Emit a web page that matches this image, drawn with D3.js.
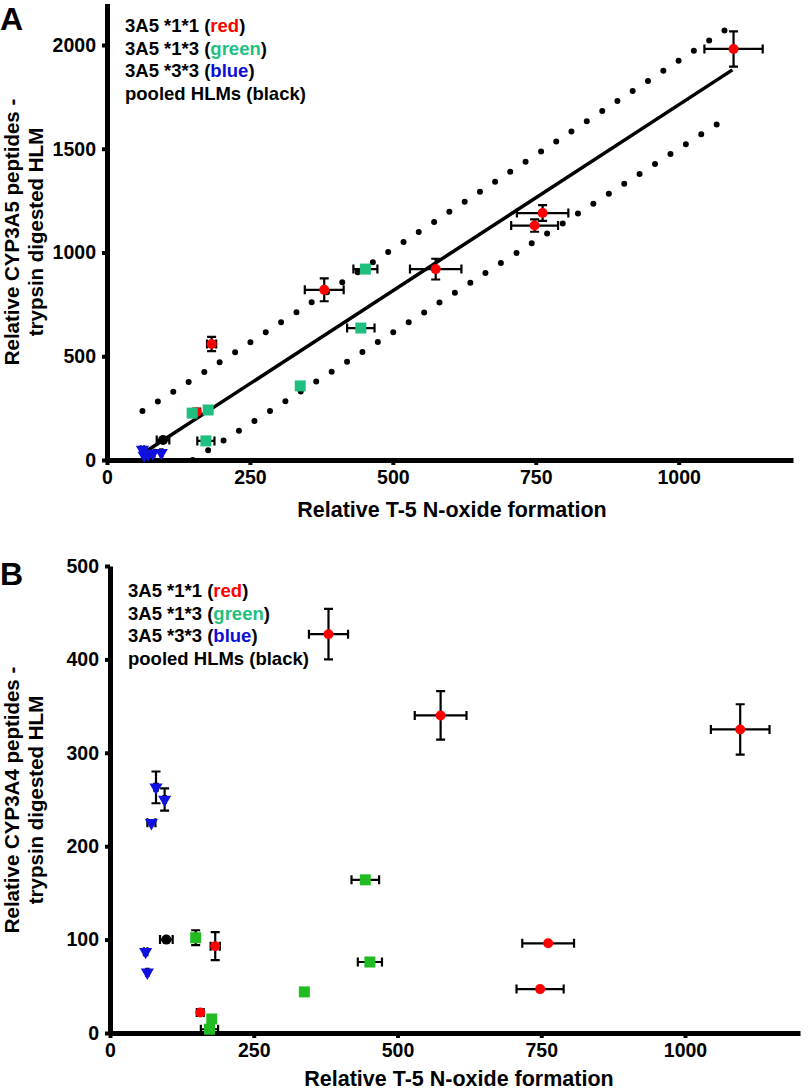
<!DOCTYPE html>
<html>
<head>
<meta charset="utf-8">
<script src="https://cdn.jsdelivr.net/npm/d3@7"></script>
<style>
  body { margin: 0; background: #fff; }
  text { font-family: "Liberation Sans", Arial, sans-serif; font-weight: bold; }
</style>
</head>
<body>
<div id="chart"></div>
<script>
// x values (relative T-5 N-oxide formation) are shared by both panels
const redX = [1096, 762, 748, 575, 380, 183, 157];
const redXErr = [51, 45, 41, 45, 34, 8, 6];
const redA = [1981, 1190, 1130, 920, 820, 559, 231];
const redAErr = [85, 38, 30, 50, 55, 34, 0];
const redB = [325, 96, 47, 340, 427, 93, 22];
const redBErr = [27, 0, 0, 26, 27, 15, 0];

const greenX = [452, 444, 338, 149, 177, 173];
const greenXErr = [21, 24, 5, 4, 4, 15];
const greenA = [920, 636, 357, 226, 241, 92];
const greenAErr = [0, 0, 0, 0, 0, 0];
const greenB = [76, 164, 44, 102, 15, 4];
const greenBErr = [0, 0, 0, 8, 0, 0];

const blueX = [62, 65, 72, 80, 95];
const blueXErr = [3, 2, 7, 3, 2];
const blueA = [50, 22, 28, 32, 35];
const blueAErr = [0, 0, 0, 0, 0];
const blueB = [87, 65, 225, 263, 250];
const blueBErr = [0, 0, 0, 17, 12];

const pooledX = [98];
const pooledXErr = [11];
const pooledA = [96];
const pooledAErr = [0];
const pooledB = [100];
const pooledBErr = [0];

// regression line and prediction band
const fitLine = [[61, 29], [1094, 1880]];
const bandUpper = [[62, 236], [332, 713], [1084, 2077]];
const bandLower = [[150, 0], [425, 482], [1073, 1629]];

const xTicks = [0, 250, 500, 750, 1000];
const yTicksA = [0, 500, 1000, 1500, 2000];
const yTicksB = [0, 100, 200, 300, 400, 500];

const legendRows = [
  ['3A5 *1*1 (', 'red', ')', '#ff0000'],
  ['3A5 *1*3 (', 'green', ')', '#1fbf80'],
  ['3A5 *3*3 (', 'blue', ')', '#0d0dd6'],
  ['pooled HLMs (black)', '', '', '#000']
];

const width = 812, height = 1092;
const svg = d3.select('#chart').append('svg')
  .attr('width', width)
  .attr('height', height);

function makeSeries(xs, xe, ys, ye) {
  return xs.map((x, i) => ({ x: x, xe: xe[i], y: ys[i], ye: ye[i] }));
}

function drawPanel(p) {
  const g = svg.append('g');
  const x = d3.scaleLinear().domain([0, 1200]).range(p.xRange);
  const y = d3.scaleLinear().domain(p.yDomain).range(p.yRange);

  const xAxis = g.append('g')
    .attr('transform', `translate(0,${p.yRange[0]})`)
    .call(d3.axisBottom(x).tickValues(xTicks).tickFormat(d3.format('d'))
      .tickSize(5).tickSizeOuter(0).tickPadding(5));
  const yAxis = g.append('g')
    .attr('transform', `translate(${p.xRange[0]},0)`)
    .call(d3.axisLeft(y).tickValues(p.yTicks).tickFormat(d3.format('d'))
      .tickSize(5).tickSizeOuter(0).tickPadding(6));

  [xAxis, yAxis].forEach(a => {
    a.select('.domain').attr('stroke', '#000').attr('stroke-width', 5);
    a.selectAll('.tick line').attr('stroke', '#000').attr('stroke-width', 4);
    a.selectAll('.tick text')
      .attr('fill', '#000')
      .style('font-size', '19.5px')
      .style('font-family', '"Liberation Sans", Arial, sans-serif')
      .style('font-weight', 'bold');
  });

  // panel letter
  g.append('text')
    .attr('x', 0).attr('y', p.letterY)
    .style('font-size', '32px')
    .text(p.letter);

  // axis titles
  g.append('text')
    .attr('x', p.xTitleX).attr('y', p.xTitleY)
    .attr('text-anchor', 'middle')
    .style('font-size', '21.5px')
    .text('Relative T-5 N-oxide formation');

  const yt = g.append('text')
    .attr('transform', `translate(0,${p.yTitleY}) rotate(-90)`)
    .attr('text-anchor', 'middle')
    .style('font-size', '20.5px');
  yt.append('tspan').attr('x', 0).attr('y', 19).text(p.yTitle[0]);
  yt.append('tspan').attr('x', 0).attr('y', 43).text(p.yTitle[1]);

  // legend
  legendRows.forEach((r, i) => {
    const t = g.append('text')
      .attr('x', p.legendX)
      .attr('y', p.legendY + i * 22.7)
      .style('font-size', '18.5px');
    t.append('tspan').text(r[0]);
    if (r[1]) {
      t.append('tspan').attr('fill', r[3]).text(r[1]);
      t.append('tspan').text(r[2]);
    }
  });

  // regression + prediction bands
  if (p.lines) {
    const line = d3.line().x(d => x(d[0])).y(d => y(d[1]));
    const curve = d3.line().x(d => x(d[0])).y(d => y(d[1])).curve(d3.curveNatural);
    g.append('path').datum(bandUpper)
      .attr('d', curve).attr('fill', 'none').attr('stroke', '#000')
      .attr('stroke-width', 6).attr('stroke-linecap', 'round')
      .attr('stroke-dasharray', '0 18.3');
    g.append('path').datum(bandLower)
      .attr('d', curve).attr('fill', 'none').attr('stroke', '#000')
      .attr('stroke-width', 6).attr('stroke-linecap', 'round')
      .attr('stroke-dasharray', '0 18.3');
    g.append('path').datum(fitLine)
      .attr('d', line).attr('fill', 'none').attr('stroke', '#000')
      .attr('stroke-width', 3.5);
  }

  // error bars
  const all = p.series.flatMap(s => s.data);
  const cap = 4.5;
  const eb = g.append('g').attr('stroke', '#000').attr('stroke-width', 2.2).attr('fill', 'none');
  all.forEach(d => {
    const cx = x(d.x), cy = y(d.y);
    if (d.xe > 0) {
      const x0 = x(d.x - d.xe), x1 = x(d.x + d.xe);
      eb.append('path').attr('d',
        `M${x0},${cy}H${x1}M${x0},${cy - cap}V${cy + cap}M${x1},${cy - cap}V${cy + cap}`);
    }
    if (d.ye > 0) {
      const y0 = y(d.y - d.ye), y1 = y(d.y + d.ye);
      eb.append('path').attr('d',
        `M${cx},${y0}V${y1}M${cx - cap},${y0}H${cx + cap}M${cx - cap},${y1}H${cx + cap}`);
    }
  });

  // markers
  p.series.forEach(s => {
    const m = g.append('g').attr('fill', s.color);
    s.data.forEach(d => {
      const cx = x(d.x), cy = y(d.y);
      if (s.shape === 'circle') {
        m.append('circle').attr('cx', cx).attr('cy', cy).attr('r', 5);
      } else if (s.shape === 'square') {
        m.append('rect').attr('x', cx - 5.5).attr('y', cy - 5.5).attr('width', 11).attr('height', 11);
      } else {
        m.append('path')
          .attr('d', d3.symbol(d3.symbolTriangle, 75)())
          .attr('transform', `translate(${cx},${cy}) rotate(180)`);
      }
    });
  });
}

drawPanel({
  letter: 'A', letterY: 30,
  xRange: [107, 793], yRange: [460, 3.5], yDomain: [0, 2200], yTicks: yTicksA,
  xTitleX: 452, xTitleY: 517,
  yTitleY: 232, yTitle: ['Relative CYP3A5 peptides -', 'trypsin digested HLM'],
  legendX: 125, legendY: 32,
  lines: true,
  series: [
    { shape: 'circle', color: '#000', data: makeSeries(pooledX, pooledXErr, pooledA, pooledAErr) },
    { shape: 'circle', color: '#ff0000', data: makeSeries(redX, redXErr, redA, redAErr) },
    { shape: 'square', color: '#1fbf80', data: makeSeries(greenX, greenXErr, greenA, greenAErr) },
    { shape: 'triangle', color: '#1010e0', data: makeSeries(blueX, blueXErr, blueA, blueAErr) }
  ]
});

drawPanel({
  letter: 'B', letterY: 585,
  xRange: [110, 800], yRange: [1033, 566], yDomain: [0, 500], yTicks: yTicksB,
  xTitleX: 459, xTitleY: 1086,
  yTitleY: 800, yTitle: ['Relative CYP3A4 peptides -', 'trypsin digested HLM'],
  legendX: 128, legendY: 597,
  lines: false,
  series: [
    { shape: 'circle', color: '#000', data: makeSeries(pooledX, pooledXErr, pooledB, pooledBErr) },
    { shape: 'circle', color: '#ff0000', data: makeSeries(redX, redXErr, redB, redBErr) },
    { shape: 'square', color: '#22bb22', data: makeSeries(greenX, greenXErr, greenB, greenBErr) },
    { shape: 'triangle', color: '#1010e0', data: makeSeries(blueX, blueXErr, blueB, blueBErr) }
  ]
});
</script>
</body>
</html>
